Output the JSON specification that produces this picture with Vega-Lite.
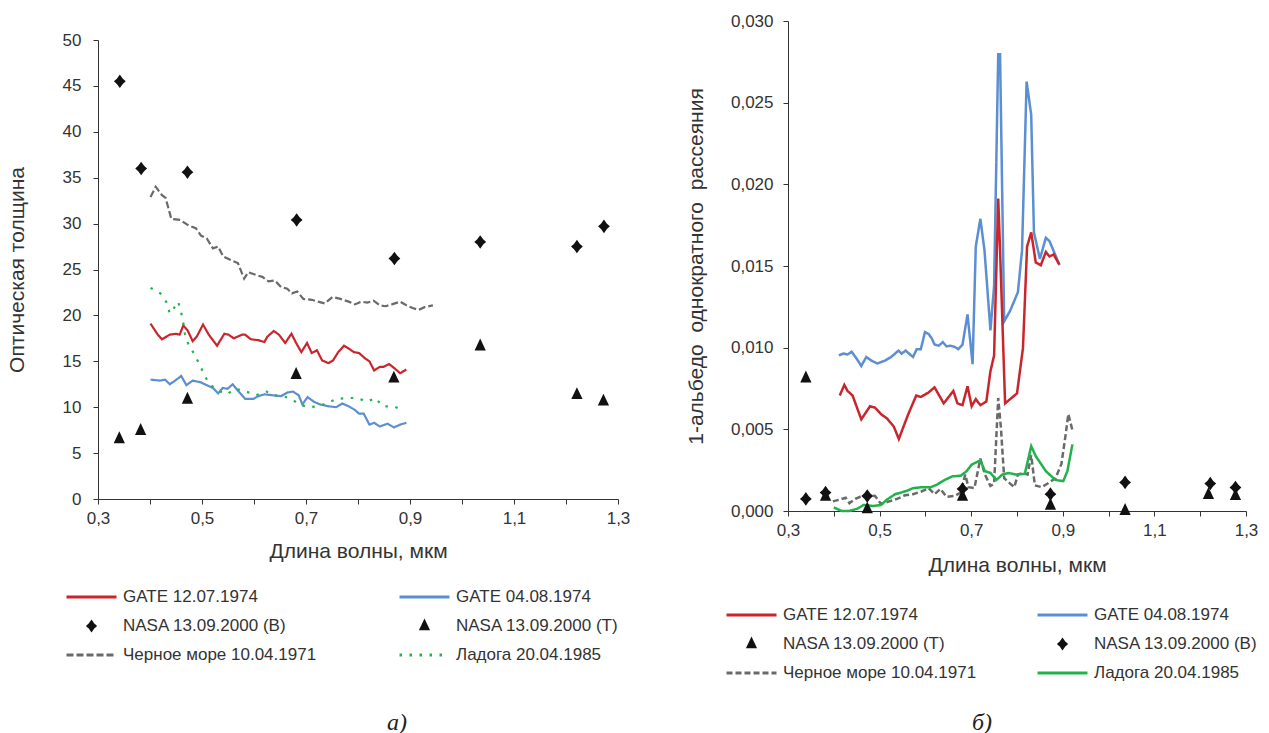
{
"$schema": "https://vega.github.io/schema/vega-lite/v6.json",
"padding": {"left": 6, "top": 12, "right": 5, "bottom": 5},
"config": {
  "font": "Liberation Sans",
  "view": {"stroke": null},
  "axis": {"labelFont": "Liberation Sans", "labelFontSize": 17, "labelColor": "#333333", "titleFont": "Liberation Sans", "titleFontSize": 21, "titleFontWeight": "normal", "titleColor": "#333333", "domainColor": "#333333", "tickColor": "#333333", "grid": false, "tickSize": 5, "labelOverlap": false, "labelFlush": false},
  "legend": {"labelFont": "Liberation Sans", "labelFontSize": 17, "labelColor": "#333333", "labelLimit": 300, "clipHeight": 22, "rowPadding": 7, "labelOffset": 5, "symbolStrokeWidth": 3, "direction": "horizontal"}
},
"datasets": {
"left": [
{"series":"GATE 12.07.1974","wl":0.401,"v":19.1},{"series":"GATE 12.07.1974","wl":0.415,"v":17.9},{"series":"GATE 12.07.1974","wl":0.423,"v":17.4},{"series":"GATE 12.07.1974","wl":0.438,"v":17.9},{"series":"GATE 12.07.1974","wl":0.45,"v":18.0},{"series":"GATE 12.07.1974","wl":0.457,"v":17.9},{"series":"GATE 12.07.1974","wl":0.464,"v":18.9},{"series":"GATE 12.07.1974","wl":0.472,"v":18.4},{"series":"GATE 12.07.1974","wl":0.482,"v":17.2},{"series":"GATE 12.07.1974","wl":0.49,"v":17.7},{"series":"GATE 12.07.1974","wl":0.502,"v":19.0},{"series":"GATE 12.07.1974","wl":0.513,"v":17.9},{"series":"GATE 12.07.1974","wl":0.529,"v":16.7},{"series":"GATE 12.07.1974","wl":0.543,"v":18.0},{"series":"GATE 12.07.1974","wl":0.551,"v":17.9},{"series":"GATE 12.07.1974","wl":0.561,"v":17.5},{"series":"GATE 12.07.1974","wl":0.577,"v":17.9},{"series":"GATE 12.07.1974","wl":0.583,"v":17.9},{"series":"GATE 12.07.1974","wl":0.594,"v":17.4},{"series":"GATE 12.07.1974","wl":0.608,"v":17.3},{"series":"GATE 12.07.1974","wl":0.62,"v":17.1},{"series":"GATE 12.07.1974","wl":0.626,"v":17.7},{"series":"GATE 12.07.1974","wl":0.638,"v":18.3},{"series":"GATE 12.07.1974","wl":0.648,"v":17.9},{"series":"GATE 12.07.1974","wl":0.66,"v":17.0},{"series":"GATE 12.07.1974","wl":0.672,"v":18.0},{"series":"GATE 12.07.1974","wl":0.681,"v":17.0},{"series":"GATE 12.07.1974","wl":0.691,"v":16.0},{"series":"GATE 12.07.1974","wl":0.702,"v":17.0},{"series":"GATE 12.07.1974","wl":0.711,"v":15.9},{"series":"GATE 12.07.1974","wl":0.721,"v":16.2},{"series":"GATE 12.07.1974","wl":0.731,"v":15.1},{"series":"GATE 12.07.1974","wl":0.743,"v":14.8},{"series":"GATE 12.07.1974","wl":0.752,"v":15.1},{"series":"GATE 12.07.1974","wl":0.762,"v":16.0},{"series":"GATE 12.07.1974","wl":0.773,"v":16.7},{"series":"GATE 12.07.1974","wl":0.782,"v":16.4},{"series":"GATE 12.07.1974","wl":0.792,"v":16.0},{"series":"GATE 12.07.1974","wl":0.802,"v":15.9},{"series":"GATE 12.07.1974","wl":0.814,"v":15.3},{"series":"GATE 12.07.1974","wl":0.822,"v":15.0},{"series":"GATE 12.07.1974","wl":0.831,"v":14.0},{"series":"GATE 12.07.1974","wl":0.842,"v":14.4},{"series":"GATE 12.07.1974","wl":0.849,"v":14.4},{"series":"GATE 12.07.1974","wl":0.86,"v":14.7},{"series":"GATE 12.07.1974","wl":0.871,"v":14.2},{"series":"GATE 12.07.1974","wl":0.881,"v":13.7},{"series":"GATE 12.07.1974","wl":0.893,"v":14.1},
{"series":"GATE 04.08.1974","wl":0.401,"v":13.0},{"series":"GATE 04.08.1974","wl":0.419,"v":12.9},{"series":"GATE 04.08.1974","wl":0.429,"v":13.0},{"series":"GATE 04.08.1974","wl":0.438,"v":12.5},{"series":"GATE 04.08.1974","wl":0.446,"v":12.8},{"series":"GATE 04.08.1974","wl":0.46,"v":13.4},{"series":"GATE 04.08.1974","wl":0.47,"v":12.4},{"series":"GATE 04.08.1974","wl":0.482,"v":12.9},{"series":"GATE 04.08.1974","wl":0.498,"v":12.7},{"series":"GATE 04.08.1974","wl":0.509,"v":12.4},{"series":"GATE 04.08.1974","wl":0.521,"v":12.1},{"series":"GATE 04.08.1974","wl":0.531,"v":11.5},{"series":"GATE 04.08.1974","wl":0.54,"v":12.1},{"series":"GATE 04.08.1974","wl":0.549,"v":12.0},{"series":"GATE 04.08.1974","wl":0.559,"v":12.5},{"series":"GATE 04.08.1974","wl":0.569,"v":11.8},{"series":"GATE 04.08.1974","wl":0.583,"v":10.9},{"series":"GATE 04.08.1974","wl":0.599,"v":10.9},{"series":"GATE 04.08.1974","wl":0.608,"v":11.2},{"series":"GATE 04.08.1974","wl":0.62,"v":11.4},{"series":"GATE 04.08.1974","wl":0.636,"v":11.3},{"series":"GATE 04.08.1974","wl":0.652,"v":11.2},{"series":"GATE 04.08.1974","wl":0.664,"v":11.6},{"series":"GATE 04.08.1974","wl":0.675,"v":11.7},{"series":"GATE 04.08.1974","wl":0.686,"v":11.3},{"series":"GATE 04.08.1974","wl":0.693,"v":10.3},{"series":"GATE 04.08.1974","wl":0.703,"v":11.1},{"series":"GATE 04.08.1974","wl":0.715,"v":10.6},{"series":"GATE 04.08.1974","wl":0.727,"v":10.3},{"series":"GATE 04.08.1974","wl":0.743,"v":10.1},{"series":"GATE 04.08.1974","wl":0.758,"v":10.0},{"series":"GATE 04.08.1974","wl":0.77,"v":10.4},{"series":"GATE 04.08.1974","wl":0.782,"v":10.1},{"series":"GATE 04.08.1974","wl":0.794,"v":9.7},{"series":"GATE 04.08.1974","wl":0.802,"v":9.3},{"series":"GATE 04.08.1974","wl":0.811,"v":9.3},{"series":"GATE 04.08.1974","wl":0.822,"v":8.1},{"series":"GATE 04.08.1974","wl":0.831,"v":8.3},{"series":"GATE 04.08.1974","wl":0.842,"v":7.9},{"series":"GATE 04.08.1974","wl":0.857,"v":8.2},{"series":"GATE 04.08.1974","wl":0.869,"v":7.8},{"series":"GATE 04.08.1974","wl":0.881,"v":8.1},{"series":"GATE 04.08.1974","wl":0.893,"v":8.3},
{"series":"Черное море 10.04.1971","wl":0.401,"v":32.9},{"series":"Черное море 10.04.1971","wl":0.411,"v":34.0},{"series":"Черное море 10.04.1971","wl":0.423,"v":33.1},{"series":"Черное море 10.04.1971","wl":0.43,"v":32.8},{"series":"Черное море 10.04.1971","wl":0.441,"v":30.5},{"series":"Черное море 10.04.1971","wl":0.458,"v":30.4},{"series":"Черное море 10.04.1971","wl":0.474,"v":29.8},{"series":"Черное море 10.04.1971","wl":0.488,"v":29.5},{"series":"Черное море 10.04.1971","wl":0.498,"v":28.7},{"series":"Черное море 10.04.1971","wl":0.509,"v":28.4},{"series":"Черное море 10.04.1971","wl":0.521,"v":27.3},{"series":"Черное море 10.04.1971","wl":0.531,"v":27.5},{"series":"Черное море 10.04.1971","wl":0.541,"v":26.4},{"series":"Черное море 10.04.1971","wl":0.557,"v":26.0},{"series":"Черное море 10.04.1971","wl":0.569,"v":25.7},{"series":"Черное море 10.04.1971","wl":0.581,"v":24.0},{"series":"Черное море 10.04.1971","wl":0.589,"v":24.7},{"series":"Черное море 10.04.1971","wl":0.604,"v":24.4},{"series":"Черное море 10.04.1971","wl":0.616,"v":24.2},{"series":"Черное море 10.04.1971","wl":0.628,"v":23.7},{"series":"Черное море 10.04.1971","wl":0.64,"v":23.8},{"series":"Черное море 10.04.1971","wl":0.652,"v":23.1},{"series":"Черное море 10.04.1971","wl":0.664,"v":22.9},{"series":"Черное море 10.04.1971","wl":0.673,"v":22.4},{"series":"Черное море 10.04.1971","wl":0.683,"v":22.6},{"series":"Черное море 10.04.1971","wl":0.695,"v":21.8},{"series":"Черное море 10.04.1971","wl":0.711,"v":21.7},{"series":"Черное море 10.04.1971","wl":0.723,"v":21.5},{"series":"Черное море 10.04.1971","wl":0.736,"v":21.3},{"series":"Черное море 10.04.1971","wl":0.751,"v":22.0},{"series":"Черное море 10.04.1971","wl":0.766,"v":21.8},{"series":"Черное море 10.04.1971","wl":0.782,"v":21.5},{"series":"Черное море 10.04.1971","wl":0.794,"v":21.2},{"series":"Черное море 10.04.1971","wl":0.806,"v":21.5},{"series":"Черное море 10.04.1971","wl":0.818,"v":21.4},{"series":"Черное море 10.04.1971","wl":0.83,"v":21.6},{"series":"Черное море 10.04.1971","wl":0.842,"v":21.1},{"series":"Черное море 10.04.1971","wl":0.853,"v":21.0},{"series":"Черное море 10.04.1971","wl":0.865,"v":21.2},{"series":"Черное море 10.04.1971","wl":0.881,"v":21.5},{"series":"Черное море 10.04.1971","wl":0.893,"v":21.1},{"series":"Черное море 10.04.1971","wl":0.905,"v":20.8},{"series":"Черное море 10.04.1971","wl":0.917,"v":20.6},{"series":"Черное море 10.04.1971","wl":0.928,"v":20.9},{"series":"Черное море 10.04.1971","wl":0.944,"v":21.1},
{"series":"Ладога 20.04.1985","wl":0.401,"v":23.0},{"series":"Ладога 20.04.1985","wl":0.42,"v":22.4},{"series":"Ладога 20.04.1985","wl":0.432,"v":21.4},{"series":"Ладога 20.04.1985","wl":0.438,"v":20.2},{"series":"Ладога 20.04.1985","wl":0.446,"v":20.8},{"series":"Ладога 20.04.1985","wl":0.454,"v":21.5},{"series":"Ладога 20.04.1985","wl":0.46,"v":20.3},{"series":"Ладога 20.04.1985","wl":0.464,"v":19.2},{"series":"Ладога 20.04.1985","wl":0.467,"v":18.0},{"series":"Ладога 20.04.1985","wl":0.474,"v":16.8},{"series":"Ладога 20.04.1985","wl":0.484,"v":15.9},{"series":"Ладога 20.04.1985","wl":0.494,"v":14.8},{"series":"Ладога 20.04.1985","wl":0.503,"v":13.7},{"series":"Ладога 20.04.1985","wl":0.513,"v":12.6},{"series":"Ладога 20.04.1985","wl":0.528,"v":11.9},{"series":"Ладога 20.04.1985","wl":0.547,"v":11.4},{"series":"Ладога 20.04.1985","wl":0.565,"v":12.0},{"series":"Ладога 20.04.1985","wl":0.585,"v":11.7},{"series":"Ладога 20.04.1985","wl":0.604,"v":11.3},{"series":"Ладога 20.04.1985","wl":0.624,"v":11.7},{"series":"Ладога 20.04.1985","wl":0.638,"v":11.3},{"series":"Ладога 20.04.1985","wl":0.656,"v":11.2},{"series":"Ладога 20.04.1985","wl":0.672,"v":10.9},{"series":"Ладога 20.04.1985","wl":0.687,"v":10.3},{"series":"Ладога 20.04.1985","wl":0.705,"v":10.0},{"series":"Ладога 20.04.1985","wl":0.723,"v":10.1},{"series":"Ладога 20.04.1985","wl":0.739,"v":10.4},{"series":"Ладога 20.04.1985","wl":0.758,"v":10.9},{"series":"Ладога 20.04.1985","wl":0.778,"v":11.0},{"series":"Ладога 20.04.1985","wl":0.798,"v":11.0},{"series":"Ладога 20.04.1985","wl":0.818,"v":10.6},{"series":"Ладога 20.04.1985","wl":0.834,"v":11.0},{"series":"Ладога 20.04.1985","wl":0.847,"v":10.1},{"series":"Ладога 20.04.1985","wl":0.869,"v":10.1},{"series":"Ладога 20.04.1985","wl":0.889,"v":9.6},
{"series":"NASA 13.09.2000 (В)","wl":0.342,"v":45.5},{"series":"NASA 13.09.2000 (В)","wl":0.383,"v":36.0},{"series":"NASA 13.09.2000 (В)","wl":0.472,"v":35.6},{"series":"NASA 13.09.2000 (В)","wl":0.682,"v":30.4},{"series":"NASA 13.09.2000 (В)","wl":0.87,"v":26.2},{"series":"NASA 13.09.2000 (В)","wl":1.035,"v":28.0},{"series":"NASA 13.09.2000 (В)","wl":1.221,"v":27.5},{"series":"NASA 13.09.2000 (В)","wl":1.273,"v":29.7},
{"series":"NASA 13.09.2000 (Т)","wl":0.341,"v":6.6},{"series":"NASA 13.09.2000 (Т)","wl":0.382,"v":7.5},{"series":"NASA 13.09.2000 (Т)","wl":0.472,"v":10.9},{"series":"NASA 13.09.2000 (Т)","wl":0.681,"v":13.6},{"series":"NASA 13.09.2000 (Т)","wl":0.869,"v":13.2},{"series":"NASA 13.09.2000 (Т)","wl":1.035,"v":16.7},{"series":"NASA 13.09.2000 (Т)","wl":1.221,"v":11.4},{"series":"NASA 13.09.2000 (Т)","wl":1.272,"v":10.7}
],
"right": [
{"series":"GATE 04.08.1974","wl":0.411,"v":0.00953},{"series":"GATE 04.08.1974","wl":0.421,"v":0.00964},{"series":"GATE 04.08.1974","wl":0.43,"v":0.00958},{"series":"GATE 04.08.1974","wl":0.439,"v":0.00975},{"series":"GATE 04.08.1974","wl":0.45,"v":0.00932},{"series":"GATE 04.08.1974","wl":0.46,"v":0.00888},{"series":"GATE 04.08.1974","wl":0.471,"v":0.00943},{"series":"GATE 04.08.1974","wl":0.482,"v":0.00921},{"series":"GATE 04.08.1974","wl":0.495,"v":0.00903},{"series":"GATE 04.08.1974","wl":0.512,"v":0.00921},{"series":"GATE 04.08.1974","wl":0.525,"v":0.00943},{"series":"GATE 04.08.1974","wl":0.534,"v":0.00964},{"series":"GATE 04.08.1974","wl":0.541,"v":0.00982},{"series":"GATE 04.08.1974","wl":0.548,"v":0.00964},{"series":"GATE 04.08.1974","wl":0.557,"v":0.00982},{"series":"GATE 04.08.1974","wl":0.564,"v":0.00964},{"series":"GATE 04.08.1974","wl":0.573,"v":0.00943},{"series":"GATE 04.08.1974","wl":0.581,"v":0.00991},{"series":"GATE 04.08.1974","wl":0.59,"v":0.00991},{"series":"GATE 04.08.1974","wl":0.599,"v":0.01095},{"series":"GATE 04.08.1974","wl":0.607,"v":0.01084},{"series":"GATE 04.08.1974","wl":0.614,"v":0.01056},{"series":"GATE 04.08.1974","wl":0.62,"v":0.01019},{"series":"GATE 04.08.1974","wl":0.629,"v":0.01012},{"series":"GATE 04.08.1974","wl":0.638,"v":0.01034},{"series":"GATE 04.08.1974","wl":0.646,"v":0.01008},{"series":"GATE 04.08.1974","wl":0.655,"v":0.01012},{"series":"GATE 04.08.1974","wl":0.664,"v":0.01004},{"series":"GATE 04.08.1974","wl":0.672,"v":0.00991},{"series":"GATE 04.08.1974","wl":0.681,"v":0.01019},{"series":"GATE 04.08.1974","wl":0.692,"v":0.01204},{"series":"GATE 04.08.1974","wl":0.703,"v":0.00899},{"series":"GATE 04.08.1974","wl":0.71,"v":0.01619},{"series":"GATE 04.08.1974","wl":0.72,"v":0.01789},{"series":"GATE 04.08.1974","wl":0.729,"v":0.01597},{"series":"GATE 04.08.1974","wl":0.742,"v":0.01106},{"series":"GATE 04.08.1974","wl":0.75,"v":0.01379},{"series":"GATE 04.08.1974","wl":0.759,"v":0.02797},{"series":"GATE 04.08.1974","wl":0.763,"v":0.02797},{"series":"GATE 04.08.1974","wl":0.772,"v":0.01161},{"series":"GATE 04.08.1974","wl":0.785,"v":0.01226},{"series":"GATE 04.08.1974","wl":0.802,"v":0.0134},{"series":"GATE 04.08.1974","wl":0.811,"v":0.01597},{"series":"GATE 04.08.1974","wl":0.821,"v":0.02629},{"series":"GATE 04.08.1974","wl":0.831,"v":0.02426},{"series":"GATE 04.08.1974","wl":0.837,"v":0.01706},{"series":"GATE 04.08.1974","wl":0.85,"v":0.01543},{"series":"GATE 04.08.1974","wl":0.863,"v":0.01673},{"series":"GATE 04.08.1974","wl":0.871,"v":0.01652},{"series":"GATE 04.08.1974","wl":0.893,"v":0.01505},
{"series":"GATE 12.07.1974","wl":0.413,"v":0.00707},{"series":"GATE 12.07.1974","wl":0.423,"v":0.00772},{"series":"GATE 12.07.1974","wl":0.43,"v":0.00735},{"series":"GATE 12.07.1974","wl":0.441,"v":0.00707},{"series":"GATE 12.07.1974","wl":0.46,"v":0.00561},{"series":"GATE 12.07.1974","wl":0.479,"v":0.00641},{"series":"GATE 12.07.1974","wl":0.49,"v":0.00633},{"series":"GATE 12.07.1974","wl":0.503,"v":0.00593},{"series":"GATE 12.07.1974","wl":0.516,"v":0.00567},{"series":"GATE 12.07.1974","wl":0.531,"v":0.00517},{"series":"GATE 12.07.1974","wl":0.542,"v":0.00441},{"series":"GATE 12.07.1974","wl":0.562,"v":0.00589},{"series":"GATE 12.07.1974","wl":0.58,"v":0.00707},{"series":"GATE 12.07.1974","wl":0.59,"v":0.00698},{"series":"GATE 12.07.1974","wl":0.606,"v":0.00724},{"series":"GATE 12.07.1974","wl":0.62,"v":0.00757},{"series":"GATE 12.07.1974","wl":0.64,"v":0.00659},{"series":"GATE 12.07.1974","wl":0.661,"v":0.00735},{"series":"GATE 12.07.1974","wl":0.67,"v":0.00659},{"series":"GATE 12.07.1974","wl":0.681,"v":0.00648},{"series":"GATE 12.07.1974","wl":0.692,"v":0.00764},{"series":"GATE 12.07.1974","wl":0.701,"v":0.00641},{"series":"GATE 12.07.1974","wl":0.71,"v":0.00685},{"series":"GATE 12.07.1974","wl":0.72,"v":0.00648},{"series":"GATE 12.07.1974","wl":0.733,"v":0.0067},{"series":"GATE 12.07.1974","wl":0.742,"v":0.00855},{"series":"GATE 12.07.1974","wl":0.75,"v":0.00953},{"series":"GATE 12.07.1974","wl":0.759,"v":0.01913},{"series":"GATE 12.07.1974","wl":0.763,"v":0.01597},{"series":"GATE 12.07.1974","wl":0.774,"v":0.00659},{"series":"GATE 12.07.1974","wl":0.8,"v":0.0072},{"series":"GATE 12.07.1974","wl":0.813,"v":0.00997},{"series":"GATE 12.07.1974","wl":0.822,"v":0.01619},{"series":"GATE 12.07.1974","wl":0.831,"v":0.01706},{"series":"GATE 12.07.1974","wl":0.841,"v":0.01521},{"series":"GATE 12.07.1974","wl":0.852,"v":0.01505},{"series":"GATE 12.07.1974","wl":0.863,"v":0.01586},{"series":"GATE 12.07.1974","wl":0.871,"v":0.01558},{"series":"GATE 12.07.1974","wl":0.88,"v":0.01571},{"series":"GATE 12.07.1974","wl":0.892,"v":0.0151},
{"series":"Черное море 10.04.1971","wl":0.398,"v":0.00059},{"series":"Черное море 10.04.1971","wl":0.413,"v":0.0007},{"series":"Черное море 10.04.1971","wl":0.426,"v":0.00081},{"series":"Черное море 10.04.1971","wl":0.434,"v":0.00048},{"series":"Черное море 10.04.1971","wl":0.447,"v":0.00074},{"series":"Черное море 10.04.1971","wl":0.458,"v":0.00087},{"series":"Черное море 10.04.1971","wl":0.473,"v":0.00096},{"series":"Черное море 10.04.1971","wl":0.49,"v":0.00092},{"series":"Черное море 10.04.1971","wl":0.503,"v":0.00044},{"series":"Черное море 10.04.1971","wl":0.521,"v":0.00059},{"series":"Черное море 10.04.1971","wl":0.538,"v":0.00074},{"series":"Черное море 10.04.1971","wl":0.555,"v":0.00096},{"series":"Черное море 10.04.1971","wl":0.573,"v":0.00103},{"series":"Черное море 10.04.1971","wl":0.59,"v":0.00118},{"series":"Черное море 10.04.1971","wl":0.607,"v":0.0014},{"series":"Черное море 10.04.1971","wl":0.62,"v":0.00103},{"series":"Черное море 10.04.1971","wl":0.633,"v":0.00135},{"series":"Черное море 10.04.1971","wl":0.646,"v":0.00087},{"series":"Черное море 10.04.1971","wl":0.664,"v":0.00092},{"series":"Черное море 10.04.1971","wl":0.677,"v":0.00113},{"series":"Черное море 10.04.1971","wl":0.687,"v":0.00223},{"series":"Черное море 10.04.1971","wl":0.694,"v":0.00146},{"series":"Черное море 10.04.1971","wl":0.707,"v":0.0014},{"series":"Черное море 10.04.1971","wl":0.72,"v":0.00321},{"series":"Черное море 10.04.1971","wl":0.73,"v":0.00223},{"series":"Черное море 10.04.1971","wl":0.742,"v":0.00153},{"series":"Черное море 10.04.1971","wl":0.75,"v":0.00168},{"series":"Черное море 10.04.1971","wl":0.759,"v":0.00692},{"series":"Черное море 10.04.1971","wl":0.765,"v":0.00506},{"series":"Черное море 10.04.1971","wl":0.772,"v":0.00201},{"series":"Черное море 10.04.1971","wl":0.785,"v":0.00168},{"series":"Черное море 10.04.1971","wl":0.794,"v":0.00146},{"series":"Черное море 10.04.1971","wl":0.802,"v":0.00223},{"series":"Черное море 10.04.1971","wl":0.813,"v":0.00233},{"series":"Черное море 10.04.1971","wl":0.823,"v":0.00223},{"series":"Черное море 10.04.1971","wl":0.831,"v":0.00343},{"series":"Черное море 10.04.1971","wl":0.839,"v":0.00157},{"series":"Черное море 10.04.1971","wl":0.854,"v":0.00146},{"series":"Черное море 10.04.1971","wl":0.867,"v":0.00168},{"series":"Черное море 10.04.1971","wl":0.884,"v":0.00201},{"series":"Черное море 10.04.1971","wl":0.897,"v":0.00288},{"series":"Черное море 10.04.1971","wl":0.906,"v":0.00463},{"series":"Черное море 10.04.1971","wl":0.912,"v":0.00593},{"series":"Черное море 10.04.1971","wl":0.921,"v":0.00495},
{"series":"Ладога 20.04.1985","wl":0.4,"v":0.00022},{"series":"Ладога 20.04.1985","wl":0.417,"v":0.0},{"series":"Ладога 20.04.1985","wl":0.434,"v":0.0},{"series":"Ладога 20.04.1985","wl":0.452,"v":0.00015},{"series":"Ладога 20.04.1985","wl":0.465,"v":0.00037},{"series":"Ладога 20.04.1985","wl":0.486,"v":0.00031},{"series":"Ладога 20.04.1985","wl":0.503,"v":0.00037},{"series":"Ладога 20.04.1985","wl":0.516,"v":0.0007},{"series":"Ладога 20.04.1985","wl":0.534,"v":0.00103},{"series":"Ладога 20.04.1985","wl":0.547,"v":0.00113},{"series":"Ладога 20.04.1985","wl":0.56,"v":0.00124},{"series":"Ладога 20.04.1985","wl":0.573,"v":0.0014},{"series":"Ладога 20.04.1985","wl":0.594,"v":0.00146},{"series":"Ладога 20.04.1985","wl":0.612,"v":0.00146},{"series":"Ладога 20.04.1985","wl":0.625,"v":0.00161},{"series":"Ладога 20.04.1985","wl":0.642,"v":0.0019},{"series":"Ладога 20.04.1985","wl":0.659,"v":0.00212},{"series":"Ладога 20.04.1985","wl":0.677,"v":0.00216},{"series":"Ладога 20.04.1985","wl":0.69,"v":0.00244},{"series":"Ладога 20.04.1985","wl":0.701,"v":0.00284},{"series":"Ладога 20.04.1985","wl":0.72,"v":0.0031},{"series":"Ладога 20.04.1985","wl":0.73,"v":0.00244},{"series":"Ладога 20.04.1985","wl":0.742,"v":0.00233},{"series":"Ладога 20.04.1985","wl":0.755,"v":0.0019},{"series":"Ладога 20.04.1985","wl":0.768,"v":0.00223},{"series":"Ладога 20.04.1985","wl":0.781,"v":0.00233},{"series":"Ладога 20.04.1985","wl":0.798,"v":0.00223},{"series":"Ладога 20.04.1985","wl":0.817,"v":0.00227},{"series":"Ладога 20.04.1985","wl":0.831,"v":0.00397},{"series":"Ладога 20.04.1985","wl":0.841,"v":0.00336},{"series":"Ладога 20.04.1985","wl":0.863,"v":0.00244},{"series":"Ладога 20.04.1985","wl":0.884,"v":0.0019},{"series":"Ладога 20.04.1985","wl":0.901,"v":0.00183},{"series":"Ладога 20.04.1985","wl":0.91,"v":0.00244},{"series":"Ладога 20.04.1985","wl":0.921,"v":0.00408},
{"series":"NASA 13.09.2000 (Т)","wl":0.339,"v":0.00816},{"series":"NASA 13.09.2000 (Т)","wl":0.382,"v":0.00092},{"series":"NASA 13.09.2000 (Т)","wl":0.473,"v":0.00015},{"series":"NASA 13.09.2000 (Т)","wl":0.681,"v":0.00092},{"series":"NASA 13.09.2000 (Т)","wl":0.873,"v":0.00037},{"series":"NASA 13.09.2000 (Т)","wl":1.036,"v":0.00005},{"series":"NASA 13.09.2000 (Т)","wl":1.218,"v":0.00103},{"series":"NASA 13.09.2000 (Т)","wl":1.277,"v":0.00096},
{"series":"NASA 13.09.2000 (В)","wl":0.339,"v":0.00074},{"series":"NASA 13.09.2000 (В)","wl":0.382,"v":0.00113},{"series":"NASA 13.09.2000 (В)","wl":0.473,"v":0.00092},{"series":"NASA 13.09.2000 (В)","wl":0.681,"v":0.00135},{"series":"NASA 13.09.2000 (В)","wl":0.873,"v":0.00103},{"series":"NASA 13.09.2000 (В)","wl":1.036,"v":0.00175},{"series":"NASA 13.09.2000 (В)","wl":1.222,"v":0.00168},{"series":"NASA 13.09.2000 (В)","wl":1.277,"v":0.00144}
]
},
"spacing": 55,
"resolve": {"scale": {"color": "independent", "shape": "independent", "strokeDash": "independent", "size": "independent"}, "legend": {"color": "independent", "shape": "independent", "strokeDash": "independent", "size": "independent"}},
"hconcat": [
{
 "spacing": 0,
 "vconcat": [
 {
  "width": 520, "height": 10,
  "data": {"values": [{}]},
  "mark": {"type": "point", "opacity": 0}
 },
 {
  "width": 520, "height": 459,
  "title": {"text": "а)", "orient": "bottom", "font": "Liberation Serif", "fontStyle": "italic", "fontSize": 24, "fontWeight": "normal", "color": "#222222", "dx": 39, "offset": 150},
  "data": {"name": "left"},
  "layer": [
   {
    "transform": [{"filter": "indexof(['NASA 13.09.2000 (В)','NASA 13.09.2000 (Т)'], datum.series) < 0"}],
    "mark": {"type": "line", "strokeWidth": 2.2},
    "encoding": {
     "x": {"field": "wl", "type": "quantitative", "scale": {"domain": [0.3, 1.3], "nice": false}, "axis": {"title": "Длина волны, мкм", "values": [0.3,0.35,0.4,0.45,0.5,0.55,0.6,0.65,0.7,0.75,0.8,0.85,0.9,0.95,1.0,1.05,1.1,1.15,1.2,1.25,1.3], "labelExpr": "(round(datum.value*100) % 20 == 10) ? replace(format(datum.value, '.1f'), '.', ',') : ''", "labelPadding": 6, "titlePadding": 14}},
     "y": {"field": "v", "type": "quantitative", "scale": {"domain": [0, 50], "nice": false}, "axis": {"title": "Оптическая толщина", "values": [0,5,10,15,20,25,30,35,40,45,50], "labelPadding": 12, "titlePadding": 35}},
     "color": {"field": "series", "type": "nominal", "scale": {"domain": ["GATE 12.07.1974","GATE 04.08.1974","NASA 13.09.2000 (В)","NASA 13.09.2000 (Т)","Черное море 10.04.1971","Ладога 20.04.1985"], "range": ["#C9252C","#5B8FD2","#111111","#111111","#6A6A6A","#22B24C"]}, "legend": {"title": null, "orient": "none", "legendX": -33, "legendY": 565, "columns": 2, "columnPadding": 81, "direction": "horizontal"}},
     "strokeDash": {"field": "series", "type": "nominal", "scale": {"domain": ["GATE 12.07.1974","GATE 04.08.1974","NASA 13.09.2000 (В)","NASA 13.09.2000 (Т)","Черное море 10.04.1971","Ладога 20.04.1985"], "range": [[1,0],[1,0],[1,0],[1,0],[7,3],[2.5,7.5]]}, "legend": {"title": null, "orient": "none", "legendX": -33, "legendY": 565, "columns": 2, "columnPadding": 81, "direction": "horizontal"}}
    }
   },
   {
    "transform": [{"filter": "indexof(['NASA 13.09.2000 (В)','NASA 13.09.2000 (Т)'], datum.series) >= 0"}],
    "mark": {"type": "point", "filled": true, "opacity": 1, "size": 140},
    "encoding": {
     "x": {"field": "wl", "type": "quantitative"},
     "y": {"field": "v", "type": "quantitative"},
     "color": {"field": "series", "type": "nominal", "scale": {"domain": ["GATE 12.07.1974","GATE 04.08.1974","NASA 13.09.2000 (В)","NASA 13.09.2000 (Т)","Черное море 10.04.1971","Ладога 20.04.1985"], "range": ["#C9252C","#5B8FD2","#111111","#111111","#6A6A6A","#22B24C"]}, "legend": {"title": null, "orient": "none", "legendX": -33, "legendY": 565, "columns": 2, "columnPadding": 81, "direction": "horizontal"}},
     "shape": {"field": "series", "type": "nominal", "scale": {"domain": ["GATE 12.07.1974","GATE 04.08.1974","NASA 13.09.2000 (В)","NASA 13.09.2000 (Т)","Черное море 10.04.1971","Ладога 20.04.1985"], "range": ["stroke","stroke","M0,-1.15L0.5,-0.45L1,0L0.5,0.45L0,1.15L-0.5,0.45L-1,0L-0.5,-0.45Z","M0,-1.2L0.95,0.8L-0.95,0.8Z","stroke","stroke"]}, "legend": {"title": null, "orient": "none", "legendX": -33, "legendY": 565, "columns": 2, "columnPadding": 81, "direction": "horizontal"}}
    }
   },
   {
    "transform": [{"filter": "false"}],
    "mark": {"type": "point", "filled": true, "opacity": 0},
    "encoding": {
     "x": {"field": "wl", "type": "quantitative"},
     "y": {"field": "v", "type": "quantitative"},
     "size": {"field": "series", "type": "nominal", "scale": {"type": "ordinal", "domain": ["GATE 12.07.1974","GATE 04.08.1974","NASA 13.09.2000 (В)","NASA 13.09.2000 (Т)","Черное море 10.04.1971","Ладога 20.04.1985"], "range": [2500,2500,45,45,2500,2500]}, "legend": {"title": null, "orient": "none", "legendX": -33, "legendY": 565, "columns": 2, "columnPadding": 81, "direction": "horizontal"}}
    }
   }
  ]
 }
 ]
},
{
  "width": 458, "height": 490,
  "title": {"text": "б)", "orient": "bottom", "font": "Liberation Serif", "fontStyle": "italic", "fontSize": 24, "fontWeight": "normal", "color": "#222222", "dx": -35, "offset": 27},
  "data": {"name": "right"},
  "layer": [
   {
    "transform": [{"filter": "indexof(['NASA 13.09.2000 (В)','NASA 13.09.2000 (Т)'], datum.series) < 0"}],
    "mark": {"type": "line", "strokeWidth": 2.5},
    "encoding": {
     "x": {"field": "wl", "type": "quantitative", "scale": {"domain": [0.3, 1.3], "nice": false}, "axis": {"title": "Длина волны, мкм", "values": [0.3,0.4,0.5,0.6,0.7,0.8,0.9,1.0,1.1,1.2,1.3], "labelExpr": "(round(datum.value*100) % 20 == 10) ? replace(format(datum.value, '.1f'), '.', ',') : ''", "labelPadding": 6, "titlePadding": 16}},
     "y": {"field": "v", "type": "quantitative", "scale": {"domain": [0, 0.03], "nice": false}, "axis": {"title": "1-альбедо\u00a0 однократного\u00a0 рассеяния", "values": [0,0.005,0.01,0.015,0.02,0.025,0.03], "labelExpr": "replace(format(datum.value, '.3f'), '.', ',')", "labelPadding": 10, "titlePadding": 24}},
     "color": {"field": "series", "type": "nominal", "scale": {"domain": ["GATE 12.07.1974","GATE 04.08.1974","NASA 13.09.2000 (Т)","NASA 13.09.2000 (В)","Черное море 10.04.1971","Ладога 20.04.1985"], "range": ["#C9252C","#5B8FD2","#111111","#111111","#6A6A6A","#22B24C"]}, "legend": {"title": null, "orient": "none", "legendX": -63, "legendY": 583, "columns": 2, "columnPadding": 59, "direction": "horizontal"}},
     "strokeDash": {"field": "series", "type": "nominal", "scale": {"domain": ["GATE 12.07.1974","GATE 04.08.1974","NASA 13.09.2000 (Т)","NASA 13.09.2000 (В)","Черное море 10.04.1971","Ладога 20.04.1985"], "range": [[1,0],[1,0],[1,0],[1,0],[6,3],[1,0]]}, "legend": {"title": null, "orient": "none", "legendX": -63, "legendY": 583, "columns": 2, "columnPadding": 59, "direction": "horizontal"}}
    }
   },
   {
    "transform": [{"filter": "indexof(['NASA 13.09.2000 (В)','NASA 13.09.2000 (Т)'], datum.series) >= 0"}],
    "mark": {"type": "point", "filled": true, "opacity": 1, "size": 140},
    "encoding": {
     "x": {"field": "wl", "type": "quantitative"},
     "y": {"field": "v", "type": "quantitative"},
     "color": {"field": "series", "type": "nominal", "scale": {"domain": ["GATE 12.07.1974","GATE 04.08.1974","NASA 13.09.2000 (Т)","NASA 13.09.2000 (В)","Черное море 10.04.1971","Ладога 20.04.1985"], "range": ["#C9252C","#5B8FD2","#111111","#111111","#6A6A6A","#22B24C"]}, "legend": {"title": null, "orient": "none", "legendX": -63, "legendY": 583, "columns": 2, "columnPadding": 59, "direction": "horizontal"}},
     "shape": {"field": "series", "type": "nominal", "scale": {"domain": ["GATE 12.07.1974","GATE 04.08.1974","NASA 13.09.2000 (Т)","NASA 13.09.2000 (В)","Черное море 10.04.1971","Ладога 20.04.1985"], "range": ["stroke","stroke","M0,-1.2L0.95,0.8L-0.95,0.8Z","M0,-1.15L0.5,-0.45L1,0L0.5,0.45L0,1.15L-0.5,0.45L-1,0L-0.5,-0.45Z","stroke","stroke"]}, "legend": {"title": null, "orient": "none", "legendX": -63, "legendY": 583, "columns": 2, "columnPadding": 59, "direction": "horizontal"}}
    }
   },
   {
    "transform": [{"filter": "false"}],
    "mark": {"type": "point", "filled": true, "opacity": 0},
    "encoding": {
     "x": {"field": "wl", "type": "quantitative"},
     "y": {"field": "v", "type": "quantitative"},
     "size": {"field": "series", "type": "nominal", "scale": {"type": "ordinal", "domain": ["GATE 12.07.1974","GATE 04.08.1974","NASA 13.09.2000 (Т)","NASA 13.09.2000 (В)","Черное море 10.04.1971","Ладога 20.04.1985"], "range": [2500,2500,45,45,2500,2500]}, "legend": {"title": null, "orient": "none", "legendX": -63, "legendY": 583, "columns": 2, "columnPadding": 59, "direction": "horizontal"}}
    }
   }
  ]
}
]
}
